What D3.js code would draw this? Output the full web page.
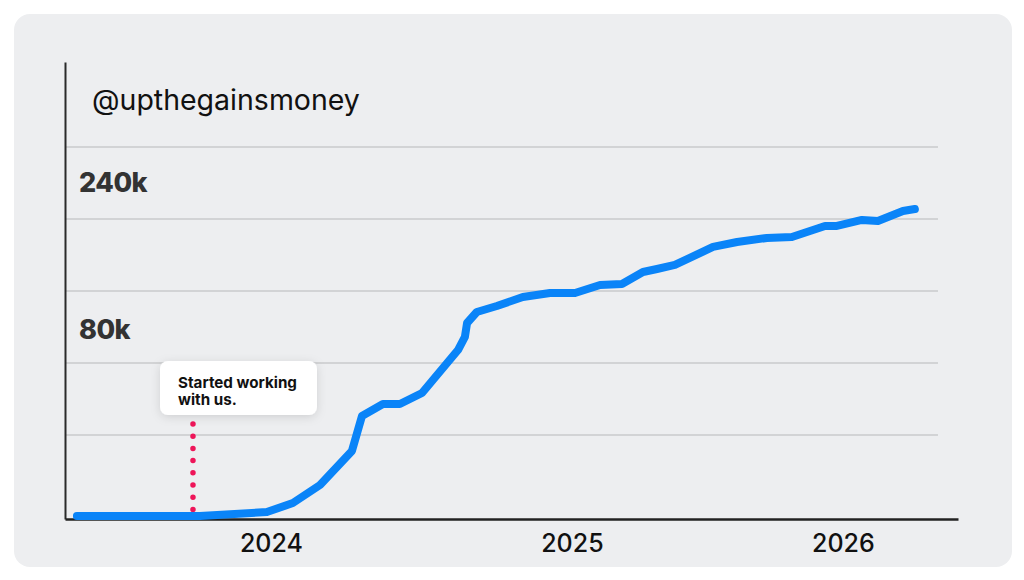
<!DOCTYPE html>
<html>
<head>
<meta charset="utf-8">
<script src="https://cdn.jsdelivr.net/npm/d3@7"></script>
<style>
  html, body { margin: 0; padding: 0; background: #ffffff; }
  svg { display: block; }
</style>
</head>
<body>
<div id="chart"></div>
<script>
// ---- data ----
const handle = "@upthegainsmoney";
// months since Jan 2023
const months = [3.86, 9.02, 11.83, 12.92, 14.06, 15.40, 15.82, 16.70, 17.41, 18.34, 19.85, 20.14, 20.23, 20.64,
  21.48, 22.57, 23.71, 24.76, 25.81, 26.73, 27.61, 28.20, 28.95, 30.55, 31.56, 32.81, 33.86, 35.25, 35.75,
  36.80, 37.47, 38.52, 39.02];
// followers (chart units)
const followers = [2.5, 2.5, 5.8, 13.3, 28.3, 56.7, 85.8, 95.8, 95.8, 105, 140.8, 151.7, 163.3, 172.5,
  177.5, 185, 188.3, 188.3, 195, 195.8, 205.8, 208.3, 211.7, 226.7, 230.8, 234.2, 235, 244.2, 244.2,
  249.2, 248.3, 256.7, 258.3];
const gridValues = [70, 130, 190, 250, 310];
const yLabelText = ["240k", "80k"];
const yLabelValues = [280, 157.5];
const xTickValues = [12, 24.63, 36];
const xTickLabels = ["2024", "2025", "2026"];
const startMonth = 8.73;
const noteLines = ["Started working", "with us."];

// ---- layout ----
const W = 1024, H = 580;
const svg = d3.select("#chart").append("svg").attr("width", W).attr("height", H);

const defs = svg.append("defs");
const f = defs.append("filter").attr("id", "shadow").attr("x", "-30%").attr("y", "-40%").attr("width", "160%").attr("height", "190%");
f.append("feDropShadow").attr("dx", 0).attr("dy", 2).attr("stdDeviation", 5).attr("flood-color", "#000").attr("flood-opacity", 0.13);

svg.append("rect").attr("x", 14).attr("y", 14).attr("width", 998).attr("height", 553)
  .attr("rx", 16).attr("fill", "#edeef0");

const x = d3.scaleLinear().domain([3.36, 40.83]).range([65, 958]);
const y = d3.scaleLinear().domain([0, 380.8]).range([519, 62]);

// gridlines
svg.append("g").selectAll("line").data(gridValues).join("line")
  .attr("x1", x(3.36)).attr("x2", x(39.99))
  .attr("y1", d => y(d)).attr("y2", d => y(d))
  .attr("stroke", "#c9cacc").attr("stroke-width", 1.5);

// y axis
const yAxis = svg.append("g").attr("transform", `translate(${x(3.36)},0)`)
  .call(d3.axisLeft(y).tickValues([]).tickSize(0));
yAxis.select(".domain").attr("stroke", "#2a2a2a").attr("stroke-width", 2);

// x axis
const xAxis = svg.append("g").attr("transform", `translate(0,${y(0)})`)
  .call(d3.axisBottom(x).tickValues(xTickValues).tickSize(0).tickPadding(15)
    .tickFormat((d, i) => xTickLabels[i]));
xAxis.select(".domain").attr("stroke", "#222").attr("stroke-width", 2.5);
xAxis.selectAll("text").attr("font-family", "Inter, 'Noto Sans', sans-serif")
  .attr("font-size", 25).attr("font-weight", 500).attr("fill", "#111").attr("dy", "0.71em");

// handle
svg.append("text").attr("x", 92).attr("y", 110).text(handle)
  .attr("font-family", "Inter, 'Noto Sans', sans-serif").attr("font-size", 28.5)
  .attr("font-weight", 400).attr("fill", "#111");

// y labels
svg.append("g").selectAll("text").data(yLabelValues).join("text")
  .attr("x", 79).attr("y", d => y(d)).attr("dy", "0.35em")
  .text((d, i) => yLabelText[i])
  .attr("font-family", "Inter, 'Noto Sans', sans-serif").attr("font-size", 27)
  .attr("font-weight", 800).attr("fill", "#333").attr("letter-spacing", -0.5);

// start marker
svg.append("line").attr("x1", x(startMonth)).attr("x2", x(startMonth))
  .attr("y1", y(70) - 11).attr("y2", y(8))
  .attr("stroke", "#ee1559").attr("stroke-width", 5.5).attr("stroke-linecap", "round")
  .attr("stroke-dasharray", "0 12.2");

// line
const pts = months.map((m, i) => [m, followers[i]]);
svg.append("path").datum(pts)
  .attr("d", d3.line().x(d => x(d[0])).y(d => y(d[1])))
  .attr("fill", "none").attr("stroke", "#0a84f8").attr("stroke-width", 8)
  .attr("stroke-linejoin", "round").attr("stroke-linecap", "round");

// annotation
const note = svg.append("g");
note.append("rect").attr("x", 160).attr("y", 361).attr("width", 157).attr("height", 54).attr("rx", 8)
  .attr("fill", "#fff").attr("filter", "url(#shadow)");
note.append("g").selectAll("text").data(noteLines).join("text")
  .attr("x", 178).attr("y", (d, i) => 388 + i * 17).text(d => d)
  .attr("font-family", "Inter, 'Noto Sans', sans-serif").attr("font-size", 15.2)
  .attr("font-weight", 700).attr("fill", "#111");
</script>
</body>
</html>
